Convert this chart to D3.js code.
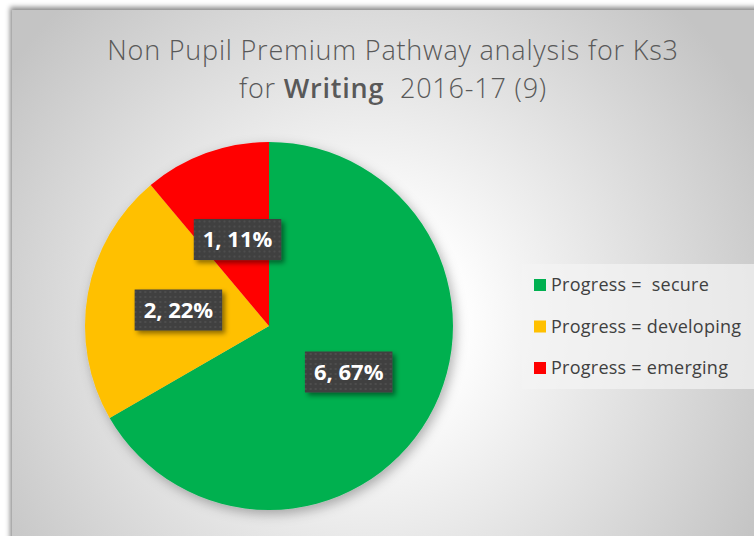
<!DOCTYPE html>
<html>
<head>
<meta charset="utf-8">
<script src="https://cdn.jsdelivr.net/npm/d3@7"></script>
<style>
  body { margin: 0; background: #fff; }
  svg { display: block; }
</style>
</head>
<body>
<svg id="chart"></svg>
<script>
// chart values
const categories = ["Progress =  secure", "Progress = developing", "Progress = emerging"];
const counts = [6, 2, 1];
const percents = ["67%", "22%", "11%"];
const colors = ["#00B050", "#FFC000", "#FF0000"];
const titleLine1 = "Non Pupil Premium Pathway analysis for Ks3";

const W = 754, H = 536;
const svg = d3.select("#chart").attr("width", W).attr("height", H);
const defs = svg.append("defs");

// background gradient of the chart area
const grad = defs.append("radialGradient").attr("id", "bg")
  .attr("gradientUnits", "userSpaceOnUse")
  .attr("cx", 370).attr("cy", 320).attr("r", 440);
grad.append("stop").attr("offset", "0%").attr("stop-color", "#ffffff");
grad.append("stop").attr("offset", "20%").attr("stop-color", "#ffffff");
grad.append("stop").attr("offset", "100%").attr("stop-color", "#c4c4c4");

const frameShadow = defs.append("filter").attr("id", "frameShadow")
  .attr("x", "-5%").attr("y", "-5%").attr("width", "110%").attr("height", "110%");
frameShadow.append("feDropShadow").attr("dx", -2).attr("dy", -3)
  .attr("stdDeviation", 2.5).attr("flood-color", "#000").attr("flood-opacity", 0.45);

const pieShadow = defs.append("filter").attr("id", "pieShadow")
  .attr("x", "-20%").attr("y", "-20%").attr("width", "140%").attr("height", "140%");
pieShadow.append("feDropShadow").attr("dx", 3).attr("dy", 4)
  .attr("stdDeviation", 6).attr("flood-color", "#000").attr("flood-opacity", 0.3);

const boxShadow = defs.append("filter").attr("id", "boxShadow")
  .attr("x", "-20%").attr("y", "-20%").attr("width", "150%").attr("height", "150%");
boxShadow.append("feDropShadow").attr("dx", 3).attr("dy", 3)
  .attr("stdDeviation", 2.5).attr("flood-color", "#000").attr("flood-opacity", 0.45);

// dotted dark pattern for the data labels
const pat = defs.append("pattern").attr("id", "dots")
  .attr("patternUnits", "userSpaceOnUse").attr("width", 5).attr("height", 5);
pat.append("rect").attr("width", 5).attr("height", 5).attr("fill", "#3f3f3f");
pat.append("rect").attr("x", 1).attr("y", 1).attr("width", 2).attr("height", 2).attr("fill", "#4e4e4e");

svg.append("rect")
  .attr("x", 12).attr("y", 10).attr("width", W + 10).attr("height", H + 10)
  .attr("fill", "url(#bg)")
  .attr("filter", "url(#frameShadow)");

// title
const title = svg.append("text")
  .attr("text-anchor", "middle")
  .attr("fill", "#595959")
  .style("font-family", "'Open Sans', sans-serif")
  .style("font-weight", 300)
  .style("font-size", "27px")
  .style("letter-spacing", "0.8px");
title.append("tspan").attr("x", 393).attr("y", 60).text(titleLine1);
const l2 = title.append("tspan").attr("x", 393).attr("y", 98);
l2.append("tspan").text("for ");
l2.append("tspan").style("font-weight", 600).text("Writing");
l2.append("tspan").text("\u00a0 2016-17 (9)");

// pie
const cx = 269, cy = 326, r = 184;
const pie = d3.pie().sort(null).value(d => d)(counts);
const arc = d3.arc().innerRadius(0).outerRadius(r);
const g = svg.append("g").attr("transform", `translate(${cx},${cy})`);

g.append("g").attr("filter", "url(#pieShadow)")
  .selectAll("path").data(pie).join("path")
  .attr("d", arc)
  .attr("fill", (d, i) => colors[i]);

// data labels
const labels = g.selectAll("g.lbl").data(pie).join("g")
  .attr("class", "lbl")
  .attr("transform", d => `translate(${arc.centroid(d)})`);
labels.each(function (d, i) {
  const lg = d3.select(this);
  const box = lg.append("rect").attr("fill", "url(#dots)").attr("filter", "url(#boxShadow)");
  const t = lg.append("text")
    .attr("text-anchor", "middle")
    .attr("dy", "0.36em")
    .attr("fill", "#fff")
    .style("font-family", "'Open Sans', sans-serif")
    .style("font-weight", 700)
    .style("font-size", "22px")
    .text(counts[i] + ", " + percents[i]);
  const tw = t.node().getComputedTextLength();
  box.attr("x", -tw / 2 - 9).attr("y", -20.5).attr("width", tw + 18).attr("height", 41);
});

// legend
const legend = svg.append("g");
legend.append("rect")
  .attr("x", 522).attr("y", 264).attr("width", 240).attr("height", 125)
  .attr("fill", "#f4f4f4").attr("fill-opacity", 0.7);
const items = legend.selectAll("g.item").data(categories).join("g")
  .attr("class", "item")
  .attr("transform", (d, i) => `translate(534,${279 + i * 41.5})`);
items.append("rect").attr("width", 12).attr("height", 12)
  .attr("fill", (d, i) => colors[i]);
items.append("text")
  .attr("x", 17).attr("y", 6).attr("dy", "0.35em")
  .attr("fill", "#404040")
  .style("font-family", "'Open Sans', sans-serif")
  .style("font-size", "18px")
  .style("letter-spacing", "0.25px")
  .style("white-space", "pre")
  .text(d => d);
</script>
</body>
</html>
